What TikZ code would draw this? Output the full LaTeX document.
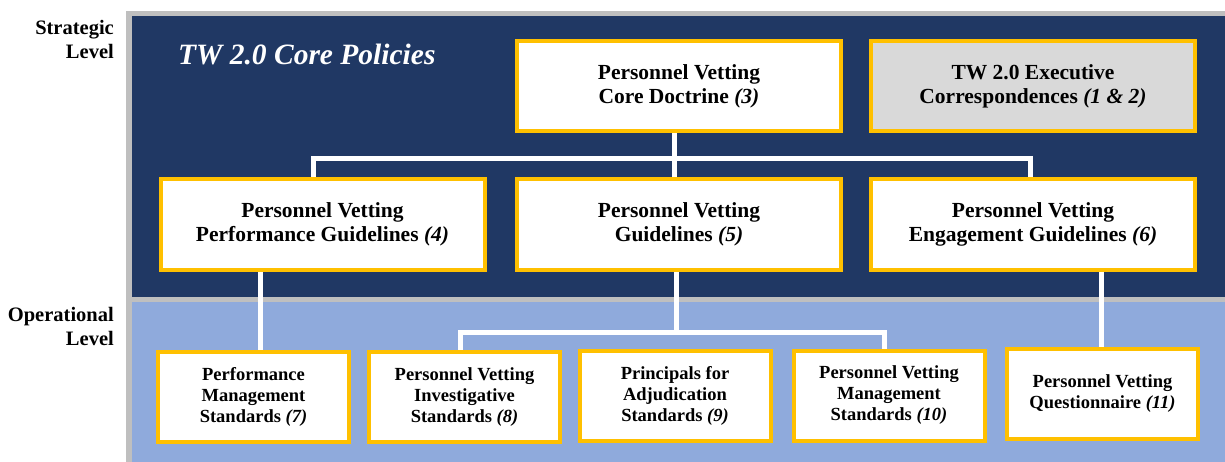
\documentclass[tikz,border=0pt]{standalone}
\usepackage{fontspec}
\setmainfont{Liberation Serif}
\usetikzlibrary{calc}
\pgfdeclarelayer{panels}
\pgfdeclarelayer{links}
\pgfsetlayers{panels,links,main}
\definecolor{navy}{HTML}{203864}
\definecolor{skyband}{HTML}{8FAADC}
\definecolor{framegray}{HTML}{BFBFBF}
\definecolor{gold}{HTML}{FFC000}
\definecolor{execfill}{HTML}{D9D9D9}
\newcommand\refno[1]{\textit{#1}}
\tikzset{
  upper/.style={draw=gold, line width=4pt, fill=white, minimum width=324pt,
    minimum height=90pt, align=center, inner sep=0pt,
    font=\fontsize{21.5}{24}\selectfont\bfseries},
  lower/.style={draw=gold, line width=4pt, fill=white, minimum width=191pt,
    minimum height=90pt, align=center, inner sep=0pt,
    font=\fontsize{18.5}{21}\selectfont\bfseries},
  link/.style={draw=white, line width=5pt},
  levellabel/.style={anchor=base east, align=right, inner sep=0pt,
    font=\fontsize{20.5}{24}\selectfont\bfseries},
}
\begin{document}
\begin{tikzpicture}[x=1pt,y=-1pt]
\useasboundingbox (0,0) rectangle (1225,462);

% level bands
\begin{pgfonlayer}{panels}
  \fill[framegray] (126,11) rectangle (1225,462);
  \fill[navy] (132,16) rectangle (1225,297);
  \fill[skyband] (132,302) rectangle (1225,462);
\end{pgfonlayer}

% level labels (anchored on the baseline of the last line) and title
\node[levellabel] (strat) at (114,59) {Strategic\\Level};
\node[levellabel] (oper) at (114,345) {Operational\\Level};
\node[anchor=base west, inner sep=0pt, text=white,
  font=\fontsize{29.5}{34}\selectfont\bfseries\itshape] (title) at (178,65)
  {TW 2.0 Core Policies};

% strategic boxes
\node[upper] (core) at (679,86.5) {Personnel Vetting\\Core Doctrine \refno{(3)}};
\node[upper, fill=execfill] (exec) at (1033,86.5)
  {TW 2.0 Executive\\Correspondences \refno{(1 \& 2)}};
\node[upper] (perfg) at (322.5,224.5)
  {Personnel Vetting\\Performance Guidelines \refno{(4)}};
\node[upper] (guide) at (679,224.5) {Personnel Vetting\\Guidelines \refno{(5)}};
\node[upper] (engg) at (1033,224.5)
  {Personnel Vetting\\Engagement Guidelines \refno{(6)}};

% operational boxes
\node[lower] (pms) at (253.5,397) {Performance\\Management\\Standards \refno{(7)}};
\node[lower] (inv) at (464.5,397)
  {Personnel Vetting\\Investigative\\Standards \refno{(8)}};
\node[lower] (adj) at (675,396) {Principals for\\Adjudication\\Standards \refno{(9)}};
\node[lower] (mgmt) at (889,395.5)
  {Personnel Vetting\\Management\\Standards \refno{(10)}};
\node[lower] (quest) at (1102.5,394)
  {Personnel Vetting\\Questionnaire \refno{(11)}};

% connectors
\coordinate (t) at (674,159);
\coordinate (hl) at (313,159);
\coordinate (hr) at (1030,159);
\coordinate (a) at (260,0);
\coordinate (m) at (676,332);
\coordinate (ml) at (460,332);
\coordinate (mr) at (884,332);
\coordinate (q) at (1101,0);
\begin{pgfonlayer}{links}
  \draw[link] (core.south -| t) -- (guide.north -| t);
  \draw[link] (perfg.north -| hl) -- (hl) -- (hr) -- (engg.north -| hr);
  \draw[link] (perfg.south -| a) -- (pms.north -| a);
  \draw[link] (guide.south -| m) -- (m);
  \draw[link] (inv.north -| ml) -- (ml) -- (mr) -- (mgmt.north -| mr);
  \draw[link] (engg.south -| q) -- (quest.north -| q);
\end{pgfonlayer}
\end{tikzpicture}
\end{document}
